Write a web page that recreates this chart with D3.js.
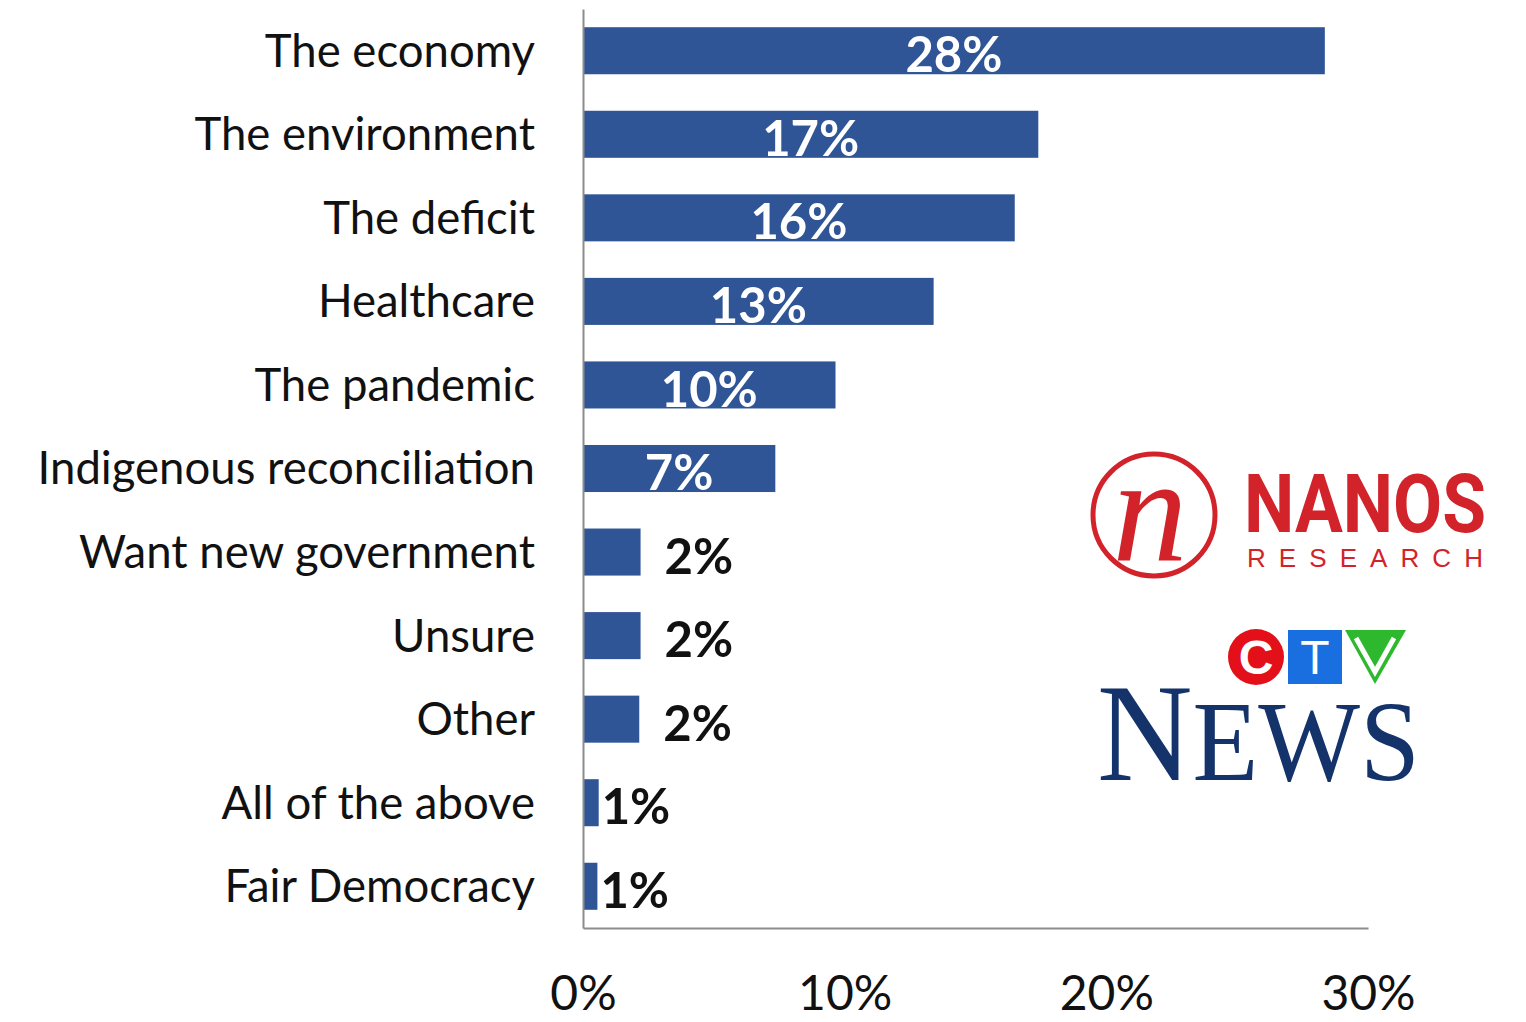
<!DOCTYPE html>
<html>
<script src='https://d3js.org/d3.v7.min.js'></script>
<style>
	body {margin: 0; background: #fff; }
	svg {display: block; }
	.cat text {font-family: Lato, "Open Sans", sans-serif; font-size: 45.5px; fill: #111; }
	.xax text {font-family: Lato, "Open Sans", sans-serif; font-size: 48px; fill: #111; }
</style>
<body>
<svg id="chart" width="1526" height="1022"></svg>
<script>
const categories = ["The economy", "The environment", "The deficit", "Healthcare", "The pandemic",
	"Indigenous reconciliation", "Want new government", "Unsure", "Other", "All of the above", "Fair Democracy"];
const values = [28.35, 17.4, 16.5, 13.4, 9.65, 7.35, 2.2, 2.2, 2.15, 0.6, 0.55];
const labels = ["28%", "17%", "16%", "13%", "10%", "7%", "2%", "2%", "2%", "1%", "1%"];
const xTicks = [0, 10, 20, 30];

const svg = d3.select("#chart");
const margin = {top: 9, left: 583, right: 158, bottom: 94};
const width = +svg.attr("width"), height = +svg.attr("height");

const x = d3.scaleLinear()
	.domain([0, 30])
	.range([margin.left, width - margin.right]);

const y = d3.scaleBand()
	.domain(categories)
	.range([margin.top, height - margin.bottom])
	.paddingInner(0.437)
	.paddingOuter(0.218);

// bars
svg.selectAll(".bar")
	.data(categories)
	.enter()
	.append("rect")
	.attr("class", "bar")
	.attr("x", x(0))
	.attr("y", d => y(d))
	.attr("width", (d, i) => x(values[i]) - x(0))
	.attr("height", y.bandwidth())
	.attr("fill", "#2f5597");

// category axis
const yAxis = svg.append("g")
	.attr("class", "cat")
	.attr("transform", `translate(${x(0)},0)`)
	.call(d3.axisLeft(y).tickSize(0).tickPadding(48));
yAxis.select(".domain").attr("stroke", "#8c8c8c").attr("stroke-width", 2);
yAxis.selectAll("text").attr("dy", "0.35em");

// value axis
const xAxis = svg.append("g")
	.attr("class", "xax")
	.attr("transform", `translate(0,${height - margin.bottom})`)
	.call(d3.axisBottom(x).tickValues(xTicks).tickSize(0).tickPadding(48).tickFormat(d => d + "%"));
xAxis.select(".domain").attr("stroke", "#8c8c8c").attr("stroke-width", 2);
xAxis.selectAll("text").attr("dy", "0.71em");

// data labels
svg.selectAll(".lbl")
	.data(categories)
	.enter()
	.append("text")
	.attr("class", "lbl")
	.attr("font-family", "Lato, 'Open Sans', sans-serif")
	.attr("font-weight", "bold")
	.attr("font-size", 49)
	.attr("dy", "0.36em")
	.attr("y", d => y(d) + y.bandwidth() / 2 + 4)
	.attr("x", (d, i) => {
		if (values[i] > 5) return (x(0) + x(values[i])) / 2;
		return x(values[i]) + (values[i] < 1 ? 3 : 24);
	})
	.attr("text-anchor", (d, i) => values[i] > 5 ? "middle" : "start")
	.attr("fill", (d, i) => values[i] > 5 ? "#fff" : "#111")
	.text((d, i) => labels[i]);

// Nanos Research logo
const nanos = svg.append("g");
nanos.append("circle")
	.attr("cx", 1154).attr("cy", 515).attr("r", 61)
	.attr("fill", "none").attr("stroke", "#d2232a").attr("stroke-width", 5);
nanos.append("text")
	.attr("x", 1150).attr("y", 560)
	.attr("text-anchor", "middle")
	.attr("font-family", "'Liberation Serif', serif")
	.attr("font-style", "italic")
	.attr("font-size", 150)
	.attr("fill", "#d2232a")
	.text("n");
nanos.append("text")
	.attr("x", 1244).attr("y", 532)
	.attr("font-family", "'Liberation Sans Narrow', 'Roboto', sans-serif")
	.attr("font-weight", "bold")
	.attr("font-size", 82)
	.attr("textLength", 242)
	.attr("lengthAdjust", "spacingAndGlyphs")
	.attr("fill", "#d2232a")
	.text("NANOS");
nanos.append("text")
	.attr("x", 1247).attr("y", 567)
	.attr("font-family", "'Liberation Sans', sans-serif")
	.attr("font-size", 26)
	.attr("textLength", 236)
	.attr("fill", "#d2232a")
	.text("RESEARCH");

// CTV News logo
const ctv = svg.append("g");
ctv.append("circle")
	.attr("cx", 1256).attr("cy", 657).attr("r", 28)
	.attr("fill", "#e3101a");
ctv.append("text")
	.attr("x", 1256).attr("y", 674)
	.attr("text-anchor", "middle")
	.attr("font-family", "'Liberation Sans', sans-serif")
	.attr("font-weight", "bold")
	.attr("font-size", 48)
	.attr("fill", "#fff")
	.text("C");
ctv.append("rect")
	.attr("x", 1288).attr("y", 630).attr("width", 54).attr("height", 54)
	.attr("fill", "#1a6fe0");
ctv.append("text")
	.attr("x", 1315).attr("y", 674)
	.attr("text-anchor", "middle")
	.attr("font-family", "'Liberation Sans', sans-serif")
	.attr("font-size", 48)
	.attr("fill", "#fff")
	.text("T");
ctv.append("path")
	.attr("d", "M1345,630 L1406,630 L1375,684 Z")
	.attr("fill", "#2eb82e");
ctv.append("path")
	.attr("d", "M1356,638 L1375,672 L1394,638")
	.attr("fill", "none").attr("stroke", "#fff").attr("stroke-width", 5);
const news = ctv.append("text")
	.attr("x", 1097).attr("y", 780)
	.attr("font-family", "'Liberation Serif', serif")
	.attr("textLength", 323)
	.attr("lengthAdjust", "spacingAndGlyphs")
	.attr("fill", "#15336b");
news.append("tspan").attr("font-size", 140).text("N");
news.append("tspan").attr("font-size", 114).text("EWS");
</script>
</body>
</html>
